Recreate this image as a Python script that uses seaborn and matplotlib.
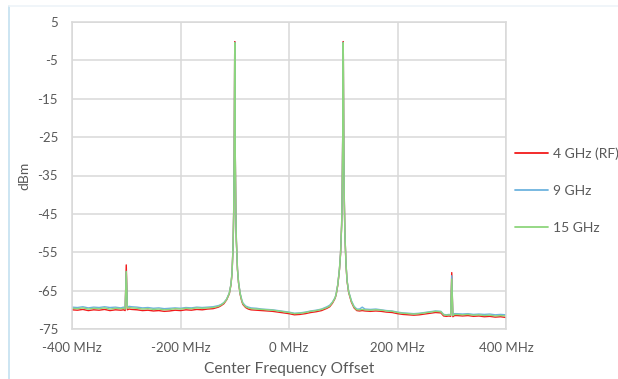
import matplotlib
matplotlib.use("Agg")
import matplotlib.pyplot as plt
from matplotlib.lines import Line2D
import seaborn as sns
import pandas as pd

# ---- data ----
freq_mhz = [-400, -390, -380, -370, -360, -350, -340, -330, -320, -310,
            -305, -302, -300, -298, -295, -290, -280, -270, -260, -250,
            -240, -230, -220, -210, -200, -190, -180, -170, -160, -150,
            -140, -130, -125, -120, -115, -110, -107, -105, -103, -102,
            -101, -100, -99, -98, -97, -95, -93, -90, -87, -85,
            -80, -75, -70, -60, -50, -40, -30, -20, -10, 0,
            10, 20, 30, 40, 50, 60, 70, 75, 80, 85,
            87, 90, 93, 95, 97, 98, 99, 100, 101, 102,
            103, 105, 107, 110, 115, 120, 125, 130, 135, 140,
            150, 160, 170, 180, 190, 200, 210, 220, 230, 240,
            250, 260, 270, 280, 285, 290, 295, 298, 300, 302,
            305, 310, 320, 330, 340, 350, 360, 370, 380, 390,
            400]

rf_4ghz = [-70.0, -70.1, -69.9, -70.2, -70.0, -70.1, -69.9, -70.2, -70.0, -70.1,
           -70.0, -70.2, -58.3, -70.0, -69.8, -69.9, -70.0, -70.2, -70.1, -70.3,
           -70.2, -70.4, -70.3, -70.1, -70.2, -70.0, -70.1, -69.9, -70.0, -69.8,
           -69.7, -69.3, -68.9, -68.4, -67.4, -65.8, -63.5, -60.5, -53.0, -45.0,
           -30.0, -0.1, -30.0, -45.0, -52.0, -59.5, -63.0, -66.0, -67.8, -68.6,
           -69.4, -69.8, -70.0, -70.1, -70.2, -70.3, -70.4, -70.6, -70.8, -71.0,
           -71.3, -71.2, -71.0, -70.7, -70.5, -70.2, -69.6, -69.2, -68.3, -67.0,
           -66.0, -63.5, -59.5, -55.5, -48.0, -40.0, -25.0, -0.1, -28.0, -42.0,
           -50.0, -58.0, -62.5, -65.5, -68.0, -69.5, -70.2, -70.3, -70.2, -70.3,
           -70.4, -70.3, -70.4, -70.6, -70.7, -71.0, -71.2, -71.3, -71.4, -71.3,
           -71.1, -70.9, -70.7, -70.8, -71.6, -71.7, -71.6, -71.7, -60.3, -71.8,
           -71.5, -71.5, -71.6, -71.5, -71.7, -71.6, -71.8, -71.7, -71.9, -71.8,
           -72.0]

ghz_9 = [-69.3, -69.4, -69.2, -69.5, -69.3, -69.4, -69.2, -69.4, -69.3, -69.5,
         -69.3, -69.5, -60.0, -69.3, -69.1, -69.2, -69.3, -69.5, -69.4, -69.6,
         -69.5, -69.7, -69.6, -69.5, -69.6, -69.4, -69.5, -69.3, -69.4, -69.3,
         -69.2, -68.9, -68.6, -68.1, -67.2, -65.6, -63.3, -60.3, -53.0, -45.0,
         -30.0, -0.3, -30.0, -45.0, -52.0, -59.3, -62.8, -65.7, -67.4, -68.2,
         -69.0, -69.3, -69.5, -69.6, -69.8, -69.9, -70.0, -70.2, -70.4, -70.6,
         -70.9, -70.8, -70.6, -70.3, -70.1, -69.8, -69.2, -68.8, -68.0, -66.8,
         -65.8, -63.3, -59.3, -55.3, -48.0, -40.0, -25.0, -0.3, -28.0, -42.0,
         -50.0, -57.8, -62.3, -65.2, -67.6, -69.1, -69.8, -69.8, -69.3, -69.8,
         -69.9, -69.8, -70.0, -70.2, -70.3, -70.6, -70.8, -70.9, -71.0, -70.9,
         -70.7, -70.5, -70.3, -70.4, -71.2, -71.3, -71.2, -71.3, -61.1, -71.4,
         -71.0, -71.0, -71.1, -71.0, -71.2, -71.1, -71.2, -71.1, -71.3, -71.2,
         -71.3]

ghz_15 = [-69.6, -69.7, -69.5, -69.8, -69.6, -69.7, -69.5, -69.8, -69.6, -69.7,
          -69.6, -69.8, -60.0, -69.6, -69.4, -69.5, -69.6, -69.8, -69.7, -69.9,
          -69.8, -70.0, -69.9, -69.7, -69.8, -69.6, -69.7, -69.5, -69.6, -69.5,
          -69.4, -69.1, -68.7, -68.2, -67.3, -65.7, -63.4, -60.4, -53.0, -45.0,
          -30.0, -0.4, -30.0, -45.0, -52.0, -59.4, -62.9, -65.8, -67.6, -68.4,
          -69.2, -69.5, -69.7, -69.8, -69.9, -70.0, -70.1, -70.3, -70.5, -70.7,
          -71.0, -70.9, -70.7, -70.4, -70.2, -69.9, -69.4, -69.0, -68.1, -66.9,
          -65.9, -63.4, -59.4, -55.4, -48.0, -40.0, -25.0, -0.4, -28.0, -42.0,
          -50.0, -57.9, -62.4, -65.3, -67.8, -69.3, -70.0, -70.0, -69.9, -70.0,
          -70.1, -70.0, -70.1, -70.3, -70.4, -70.7, -70.9, -71.0, -71.1, -71.0,
          -70.8, -70.6, -70.4, -70.5, -71.3, -71.4, -71.3, -71.4, -62.0, -71.5,
          -71.2, -71.2, -71.3, -71.2, -71.4, -71.3, -71.5, -71.4, -71.6, -71.5,
          -71.6]

series_names = ["4 GHz (RF)", "9 GHz", "15 GHz"]
series_colors = ["#F21A1A", "#6DB3DE", "#8ED67C"]
x_ticks = [-400, -200, 0, 200, 400]
x_tick_labels = ["-400 MHz", "-200 MHz", "0 MHz", "200 MHz", "400 MHz"]
y_ticks = [5, -5, -15, -25, -35, -45, -55, -65, -75]

df = pd.concat([
    pd.DataFrame({"freq": freq_mhz, "dBm": vals, "series": name})
    for name, vals in zip(series_names, [rf_4ghz, ghz_9, ghz_15])
], ignore_index=True)

# ---- style ----
sns.set_theme(style="white")
plt.rcParams["font.family"] = ["Lato", "DejaVu Sans"]
txt = "#595959"
grid_c = "#D9D9D9"

fig = plt.figure(figsize=(6.18, 3.79), dpi=100)
ax = fig.add_axes([72 / 618, 1 - 329 / 379, (506 - 72) / 618, (329 - 22) / 379])

sns.lineplot(data=df, x="freq", y="dBm", hue="series", hue_order=series_names,
             palette=series_colors, estimator=None, sort=False, lw=1.0, ax=ax)

ax.set_xlim(-400, 400)
ax.set_ylim(-75, 5)
ax.set_xticks(x_ticks)
ax.set_xticklabels(x_tick_labels)
ax.set_yticks(y_ticks)
ax.set_yticklabels([str(v) for v in y_ticks])
ax.tick_params(axis="both", length=0, labelsize=9.5, colors=txt)
ax.tick_params(axis="y", pad=10)
ax.tick_params(axis="x", pad=9)
ax.grid(True, color=grid_c, lw=1.1)
ax.set_axisbelow(True)
for s in ax.spines.values():
    s.set_color(grid_c)
    s.set_linewidth(1.1)

ax.set_xlabel("Center Frequency Offset", fontsize=11.2, color=txt, labelpad=6)
ax.set_ylabel("dBm", fontsize=10, color=txt, labelpad=5)

handles = [Line2D([], [], color=c, lw=1.3) for c in series_colors]
ax.legend(handles, series_names, loc="center left",
          bbox_to_anchor=(509 / 618, 1 - 191 / 379), bbox_transform=fig.transFigure,
          frameon=False, fontsize=10, labelcolor=txt,
          handlelength=2.4, handletextpad=0.35, labelspacing=1.8, borderaxespad=0)

# faint chart-area frame visible at left / top of the screenshot
fig.add_artist(Line2D([8.5 / 618, 8.5 / 618], [0, 1 - 6 / 379], transform=fig.transFigure,
                      color="#C4E0F0", lw=1.2))
fig.add_artist(Line2D([8.5 / 618, 1], [1 - 6 / 379, 1 - 6 / 379], transform=fig.transFigure,
                      color="#EEF4F8", lw=1.2))

fig.savefig("out.png", dpi=100)
